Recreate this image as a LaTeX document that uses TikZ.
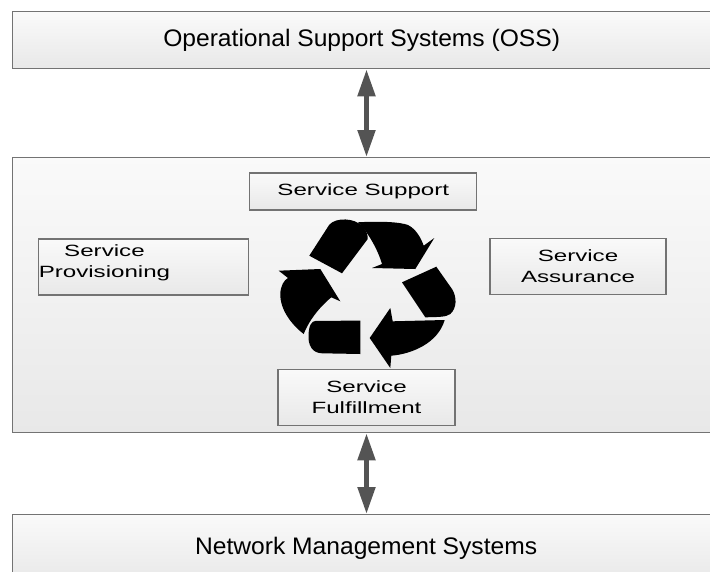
\documentclass[tikz,border=0pt]{standalone}
\usepackage{fontspec}
\setmainfont{Liberation Sans}
\newfontfamily\outerfont[FakeStretch=1.03]{Liberation Sans}
\newfontfamily\innerfont[FakeStretch=1.48,Ligatures=CommonOff]{Liberation Sans}
\usetikzlibrary{arrows.meta}

\begin{document}
\begin{tikzpicture}[x=1pt, y=-1pt,
    panel/.style={draw=black!55, line width=1.3pt, top color=white!98!black, bottom color=white!91!black, inner sep=0pt},
    bigbox/.style={panel, anchor=north west, font=\outerfont\fontsize{23.9}{29}\selectfont},
    smallbox/.style={panel, font=\innerfont\fontsize{16.3}{21}\selectfont, align=center},
    link/.style={black!67, line width=5pt, {Triangle[length=27pt, width=17pt]}-{Triangle[length=27pt, width=17pt]}}]
    \useasboundingbox (0,0) rectangle (710,571);
    % the three layers
    \node[bigbox, minimum width=698pt, minimum height=57pt] (oss) at (12,11) {Operational Support Systems (OSS)};
    \node[bigbox, minimum width=708pt, minimum height=275pt] (svc) at (12,157) {};
    \node[bigbox, minimum width=707pt, minimum height=68pt] (nms) at (12,514) {Network Management Systems};
    % service boxes
    \node[smallbox, minimum width=227pt, minimum height=37pt] (supp) at (363.3,191.4) {Service Support};
    \node[smallbox, minimum width=210pt, minimum height=56pt] (prov) at (143.2,267) {};
    \node[font=\innerfont\fontsize{16.3}{21}\selectfont, align=center, anchor=west, inner sep=1pt] (provtext) at ([yshift=4pt]prov.west) {Service\\Provisioning};
    \node[smallbox, minimum width=176pt, minimum height=56pt] (assu) at (578,266.2) {Service\\Assurance};
    \node[smallbox, minimum width=177pt, minimum height=56pt] (ful) at (366.5,397.2) {Service\\Fulfillment};
    % recycle arrows
    \fill (309.3,255.7) -- (329.3,224.7) .. controls (336,217) and (355,218) .. (362,226) .. controls (367,231) and (368,236) .. (367.7,239) -- (342,273.3) -- cycle;
    \fill (358,222.3) .. controls (380,221) and (400,222) .. (408,225) .. controls (416,229) and (421,238) .. (423.7,245.7) -- (434.3,238) -- (415.3,269) -- (372,268) -- (382,264) .. controls (378,250) and (368,232) .. (358,222.3) -- cycle;
    \fill (402,282.3) -- (436.3,266.7) -- (452,289) .. controls (457,297) and (457,308) .. (450.3,314) .. controls (446,317) and (440,317) .. (425.3,317.3) -- cycle;
    \fill (444.7,320) -- (392.7,321.3) -- (390.3,308) -- (369.7,338) -- (390.3,368) -- (391.3,355.7) .. controls (412,354) and (438,343) .. (444.7,320) -- cycle;
    \fill (360.3,320.7) -- (360.3,354) -- (322,353.3) .. controls (312,353) and (308,345) .. (308.5,335) .. controls (309,326) and (311,321) .. (316,320.8) -- cycle;
    \fill (303.7,334) .. controls (292,325) and (280,310) .. (280.3,294) .. controls (280.5,286) and (284,280) .. (288,278) -- (278.7,270.7) -- (320.3,269) -- (340.3,301.3) -- (331.3,297.3) .. controls (322,305) and (310,318) .. (303.7,334) -- cycle;
    % links between layers
    \draw[link] (oss.south -| ful.north) -- (svc.north -| ful.north);
    \draw[link] (svc.south -| ful.south) -- (nms.north -| ful.south);
\end{tikzpicture}
\end{document}
